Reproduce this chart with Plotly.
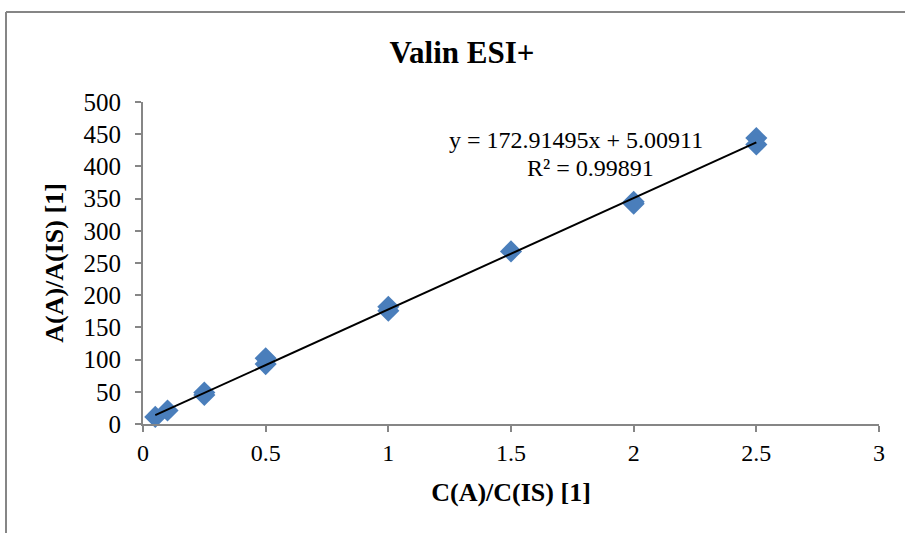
import numpy as np
import plotly.graph_objects as go

# Data
conc_ratio = [0.05, 0.1, 0.25, 0.25, 0.5, 0.5, 1.0, 1.0, 1.5, 2.0, 2.0, 2.5, 2.5]
area_ratio = [11, 21, 49, 45, 102, 93, 182, 176, 268, 345, 342, 444, 434]

slope = 172.91495
intercept = 5.00911
r_squared = 0.99891

title_text = "Valin ESI+"
x_title = "C(A)/C(IS) [1]"
y_title = "A(A)/A(IS) [1]"
x_ticks = [0, 0.5, 1, 1.5, 2, 2.5, 3]
y_ticks = [0, 50, 100, 150, 200, 250, 300, 350, 400, 450, 500]

W, H = 905, 533
L, R, T, B = 143, 26, 102, 109

font = "Liberation Serif, Times New Roman, serif"
axis_grey = "#868686"

fig = go.Figure()

fig.add_trace(go.Scatter(
    x=conc_ratio, y=area_ratio, mode="markers",
    marker=dict(symbol="diamond", size=17, color="#4a7ebb",
                line=dict(width=0)),
    showlegend=False, cliponaxis=False,
))

xfit = np.array([min(conc_ratio), max(conc_ratio)])
yfit = slope * xfit + intercept
fig.add_trace(go.Scatter(
    x=xfit, y=yfit, mode="lines",
    line=dict(color="black", width=2),
    showlegend=False,
))

fig.update_layout(
    width=W, height=H,
    margin=dict(l=L, r=R, t=T, b=B),
    paper_bgcolor="white", plot_bgcolor="white",
    font=dict(family=font, color="black", size=24),
    title=dict(text="<b>" + title_text + "</b>", x=(462) / W, xanchor="center",
               y=1 - 52 / H, yanchor="middle",
               font=dict(family=font, size=31, color="black")),
    xaxis=dict(range=[0, 3], tickvals=x_ticks,
               ticktext=[f"{v:g}" for v in x_ticks],
               showgrid=False, zeroline=False,
               showline=True, linecolor=axis_grey, linewidth=2,
               ticks="outside", ticklen=6, tickcolor=axis_grey, tickwidth=2,
               tickfont=dict(size=24, family=font),
               title=dict(text="<b>" + x_title + "</b>", standoff=18,
                          font=dict(size=26, family=font))),
    yaxis=dict(range=[0, 500], tickvals=y_ticks,
               showgrid=False, zeroline=False,
               showline=True, linecolor=axis_grey, linewidth=2,
               ticks="outside", ticklen=6, tickcolor=axis_grey, tickwidth=2,
               ticklabelstandoff=9,
               tickfont=dict(size=25, family=font),
               title=dict(text="<b>" + y_title + "</b>", standoff=12,
                          font=dict(size=26, family=font))),
)

pw, ph = W - L - R, H - T - B

fig.add_annotation(
    xref="paper", yref="paper",
    x=(576 - L) / pw, y=1 - (140 - T) / ph,
    text=f"y = {slope:.5f}x + {intercept:.5f}",
    showarrow=False, xanchor="center", yanchor="middle",
    font=dict(family=font, size=24, color="black"),
)
fig.add_annotation(
    xref="paper", yref="paper",
    x=(590 - L) / pw, y=1 - (168 - T) / ph,
    text=f"R² = {r_squared:.5f}",
    showarrow=False, xanchor="center", yanchor="middle",
    font=dict(family=font, size=24, color="black"),
)

# chart-area border (left and top edges visible)
x0p = (6 - L) / pw
y0p = 1 + (T - 12) / ph
fig.add_shape(type="line", xref="paper", yref="paper",
              x0=x0p, x1=x0p, y0=y0p, y1=-(B + 10) / ph,
              line=dict(color=axis_grey, width=2))
fig.add_shape(type="line", xref="paper", yref="paper",
              x0=x0p, x1=1 + (R + 10) / pw, y0=y0p, y1=y0p,
              line=dict(color=axis_grey, width=2))

fig.write_html("out.html")
